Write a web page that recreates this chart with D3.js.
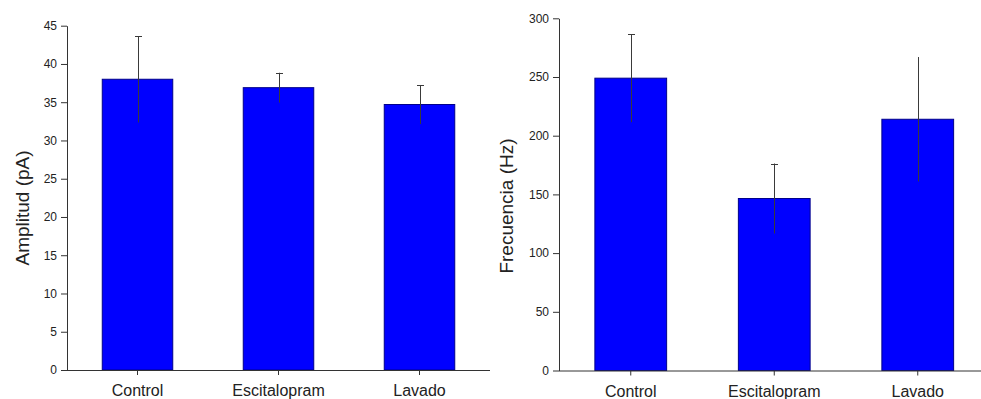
<!DOCTYPE html>
<html>
<head>
<meta charset="utf-8">
<script src="https://cdn.jsdelivr.net/npm/d3@7"></script>
<style>
  body { margin: 0; background: #fff; }
  svg { display: block; font-family: "Liberation Sans", Arial, sans-serif; }
</style>
</head>
<body>
<div id="chart"></div>
<script>
const categories = ["Control", "Escitalopram", "Lavado"]

const ampValues = [38.0, 36.9, 34.7]
const ampErrors = [5.65, 1.95, 2.55]
const ampTicks = [0, 5, 10, 15, 20, 25, 30, 35, 40, 45]

const freqValues = [249, 146.5, 214]
const freqErrors = [37.5, 29.8, 53]
const freqTicks = [0, 50, 100, 150, 200, 250, 300]

const width = 981
const height = 399

const svg = d3.select("#chart")
    .append("svg")
    .attr("width", width)
    .attr("height", height)

const drawPanel = function (opts){
    const g = svg.append("g")

    const x = d3.scaleBand()
        .domain(categories)
        .range([opts.left, opts.right])
        .paddingInner(0.5)
        .paddingOuter(0.25)

    const y = d3.scaleLinear()
        .domain([0, opts.max])
        .range([opts.bottom, opts.top])

    // bars
    g.append("g")
        .selectAll("rect")
        .data(opts.values)
        .join("rect")
        .attr("x", (d, i) => x(categories[i]))
        .attr("y", d => y(d))
        .attr("width", x.bandwidth())
        .attr("height", d => y(0) - y(d))
        .attr("fill", "#0000ff")
        .attr("stroke", "#00008b")
        .attr("stroke-width", 1)

    // error bars
    const err = g.append("g")
        .attr("stroke", "#3a3a3a")
        .attr("stroke-width", 1)
    opts.values.forEach((v, i) => {
        const cx = Math.round(x(categories[i]) + x.bandwidth() / 2) + 0.5
        err.append("line")
            .attr("x1", cx).attr("x2", cx)
            .attr("y1", y(v - opts.errors[i]))
            .attr("y2", y(v + opts.errors[i]))
        if (opts.caps[i]) {
            err.append("line")
                .attr("x1", cx - 3.5).attr("x2", cx + 3.5)
                .attr("y1", Math.round(y(v + opts.errors[i])) + 0.5)
                .attr("y2", Math.round(y(v + opts.errors[i])) + 0.5)
        }
    })

    // y axis
    g.append("g")
        .attr("transform", `translate(${opts.left},0)`)
        .call(d3.axisLeft(y).tickValues(opts.ticks).tickSize(6).tickSizeOuter(0).tickPadding(4))
        .call(a => a.selectAll("path, line").attr("stroke", "#333"))
        .call(a => a.selectAll("text")
            .attr("font-size", 12)
            .attr("font-family", "Liberation Sans, Arial, sans-serif")
            .attr("fill", "#222"))

    // x axis
    g.append("g")
        .attr("transform", `translate(0,${opts.bottom})`)
        .call(d3.axisBottom(x).tickSize(5).tickSizeOuter(0))
        .call(a => a.select(".domain").attr("d", `M${opts.left},0.5H${opts.axisEnd}`))
        .call(a => a.selectAll("path, line").attr("stroke", "#333"))
        .call(a => a.selectAll("text")
            .attr("y", 15)
            .attr("font-size", 16)
            .attr("font-family", "Liberation Sans, Arial, sans-serif")
            .attr("fill", "#222"))

    // y label
    g.append("text")
        .attr("transform", `translate(${opts.labelX},${opts.labelY}) rotate(-90)`)
        .attr("text-anchor", "middle")
        .attr("font-size", 19)
        .attr("fill", "#222")
        .text(opts.label)
}

drawPanel({
    values: ampValues, errors: ampErrors, ticks: ampTicks, max: 45,
    caps: [true, true, true],
    left: 67, right: 490, axisEnd: 490, top: 25.7, bottom: 370,
    label: "Amplitud (pA)", labelX: 29, labelY: 208
})

drawPanel({
    values: freqValues, errors: freqErrors, ticks: freqTicks, max: 300,
    caps: [true, true, false],
    left: 559, right: 989.5, axisEnd: 981, top: 18.3, bottom: 370.5,
    label: "Frecuencia (Hz)", labelX: 513, labelY: 206
})
</script>
</body>
</html>
